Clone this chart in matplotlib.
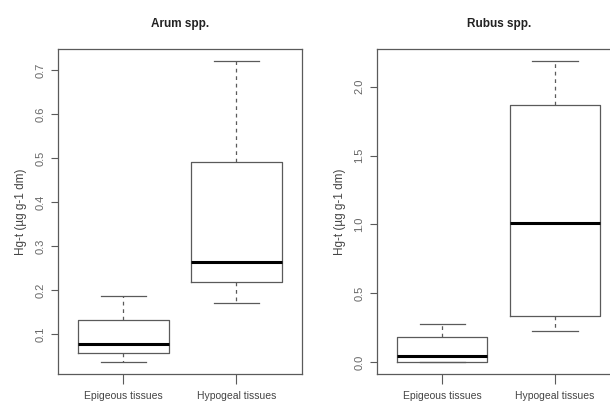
import matplotlib.pyplot as plt

plt.rcParams['font.family'] = ['Liberation Sans Narrow', 'Liberation Sans', 'DejaVu Sans']

groups = ["Epigeous tissues", "Hypogeal tissues"]
ylab = "Hg-t (\u00b5g g-1 dm)"

# Arum spp. : lower whisker, Q1, median, Q3, upper whisker
arum_lo = [0.037, 0.170]
arum_q1 = [0.058, 0.218]
arum_med = [0.077, 0.265]
arum_q3 = [0.132, 0.492]
arum_hi = [0.187, 0.721]
arum_ticks = [0.1, 0.2, 0.3, 0.4, 0.5, 0.6, 0.7]

# Rubus spp.
rubus_lo = [0.0, 0.226]
rubus_q1 = [0.0, 0.335]
rubus_med = [0.044, 1.013]
rubus_q3 = [0.18, 1.871]
rubus_hi = [0.275, 2.187]
rubus_ticks = [0.0, 0.5, 1.0, 1.5, 2.0]

grey = '#5a5a5a'
txt = '#444444'

fig = plt.figure(figsize=(6.1, 4.05), dpi=100)
ax1 = fig.add_axes([0.095, 0.0765, 0.4, 0.8025])
ax2 = fig.add_axes([0.618, 0.0765, 0.399, 0.8025])


def draw(ax, lo, q1, med, q3, hi, ticks, title, ylim):
    stats = []
    for i in range(len(groups)):
        stats.append(dict(whislo=lo[i], q1=q1[i], med=med[i], q3=q3[i],
                          whishi=hi[i], label=groups[i]))
    ax.bxp(stats, positions=[1, 2], widths=0.8, capwidths=0.4,
           showfliers=False,
           boxprops=dict(color=grey, linewidth=0.9),
           whiskerprops=dict(color=grey, linewidth=0.9, linestyle=(0, (3, 3))),
           capprops=dict(color=grey, linewidth=0.9),
           medianprops=dict(color='black', linewidth=2.2))
    ax.set_xlim(0.42, 2.58)
    ax.set_ylim(*ylim)
    ax.set_yticks(ticks)
    ax.set_yticklabels([f"{t:.1f}" for t in ticks], rotation=90, va='center',
                       fontsize=8, color='#666666')
    ax.set_xticks([1, 2])
    ax.set_xticklabels(groups, fontsize=7.5, color=txt)
    ax.tick_params(axis='y', direction='out', length=5, color=grey, width=0.8, pad=4)
    ax.tick_params(axis='x', direction='out', length=7, color=grey, width=0.8, pad=5)
    for s in ax.spines.values():
        s.set_color(grey)
        s.set_linewidth(0.9)
    ax.set_ylabel(ylab, fontsize=8.5, color=txt, labelpad=6)
    ax.set_title(title, fontsize=8.5, fontweight='bold', color='#222222', pad=16)


lo1 = min(arum_lo); hi1 = max(arum_hi); d1 = (hi1 - lo1) * 0.04
draw(ax1, arum_lo, arum_q1, arum_med, arum_q3, arum_hi, arum_ticks,
     "Arum spp.", (lo1 - d1, hi1 + d1))
lo2 = min(rubus_lo); hi2 = max(rubus_hi); d2 = (hi2 - lo2) * 0.04
draw(ax2, rubus_lo, rubus_q1, rubus_med, rubus_q3, rubus_hi, rubus_ticks,
     "Rubus spp.", (lo2 - d2, hi2 + d2))

fig.savefig('out.png', dpi=100)
